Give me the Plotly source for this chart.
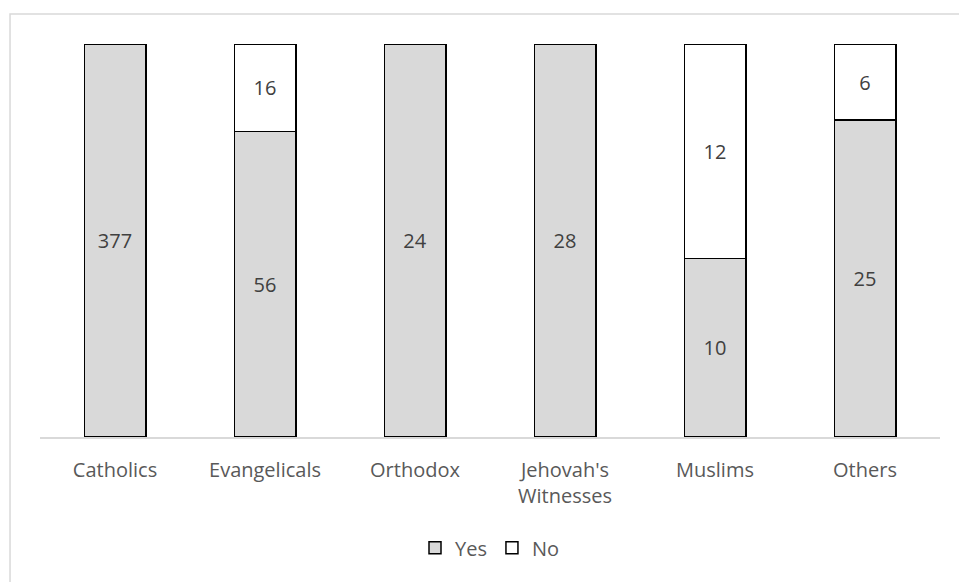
import plotly.graph_objects as go

categories = ["Catholics", "Evangelicals", "Orthodox", "Jehovah's<br>Witnesses", "Muslims", "Others"]
yes_counts = [377, 56, 24, 28, 10, 25]
no_counts = [0, 16, 0, 0, 12, 6]

FONT = "Open Sans"
TEXT_COLOR = "#595959"
SIZE = 20


def labels(values):
    return [str(v) if v else "" for v in values]


fig = go.Figure()
fig.add_trace(go.Bar(
    name="Yes", x=categories, y=yes_counts,
    text=labels(yes_counts), textposition="inside", insidetextanchor="middle",
    textfont=dict(family=FONT, size=SIZE, color="#404040"),
    marker=dict(color="#d9d9d9", line=dict(color="#000000", width=1.5)),
))
fig.add_trace(go.Bar(
    name="No", x=categories, y=no_counts,
    text=labels(no_counts), textposition="inside", insidetextanchor="middle",
    textfont=dict(family=FONT, size=SIZE, color="#404040"),
    marker=dict(color="#ffffff", line=dict(color="#000000", width=1.5)),
))

fig.update_layout(
    barmode="stack",
    barnorm="percent",
    bargap=0.59,
    width=959, height=582,
    margin=dict(l=40, r=19, t=44, b=145),
    plot_bgcolor="white", paper_bgcolor="white",
    font=dict(family=FONT, size=SIZE, color=TEXT_COLOR),
    showlegend=True,
    legend=dict(orientation="h", x=0.50, xanchor="center", y=-0.282, yanchor="middle",
                font=dict(family=FONT, size=20, color=TEXT_COLOR),
                itemwidth=30, traceorder="normal"),
)
fig.update_xaxes(showline=True, linecolor="#d9d9d9", linewidth=1.5, ticks="",
                 ticklabelstandoff=14,
                 tickfont=dict(family=FONT, size=SIZE, color=TEXT_COLOR))
fig.update_yaxes(visible=False, range=[0, 100], showgrid=False)

# chart-area frame
fig.add_shape(type="rect", xref="paper", yref="paper",
              x0=-0.0333, x1=1.2, y0=-0.6, y1=1.0763,
              line=dict(color="#d9d9d9", width=1.5), fillcolor="rgba(0,0,0,0)", layer="below")

fig.write_html("out.html")
